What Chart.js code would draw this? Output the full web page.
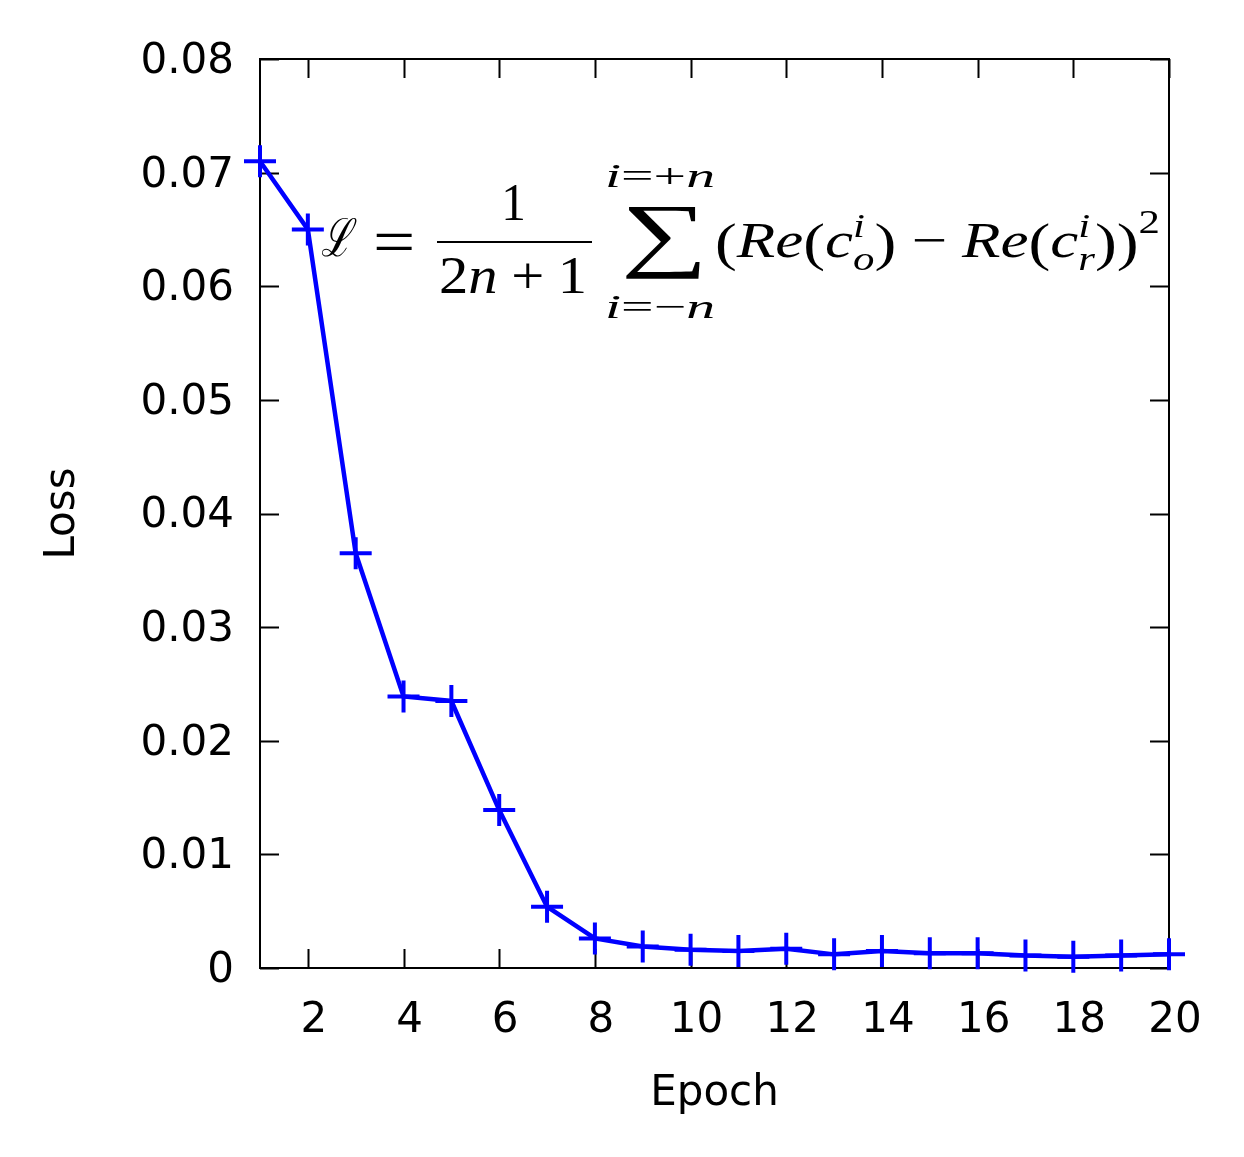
<!DOCTYPE html>
<html>
<head>
<meta charset="utf-8">
<script src="https://cdn.jsdelivr.net/npm/chart.js@4.4.1/dist/chart.umd.min.js"></script>
<style>
  html, body { margin: 0; padding: 0; background: #fff; }
  #wrap { width: 1244px; height: 1157px; }
</style>
</head>
<body>
<div id="wrap"><canvas id="lossChart" width="1244" height="1157"></canvas></div>
<script>
const epochs = [1, 2, 3, 4, 5, 6, 7, 8, 9, 10, 11, 12, 13, 14, 15, 16, 17, 18, 19, 20];
const loss = [0.0710, 0.0650, 0.0365, 0.0239, 0.0235, 0.0139, 0.0054, 0.0026, 0.0019, 0.0016,
              0.0015, 0.0017, 0.0012, 0.0015, 0.0013, 0.0013, 0.0011, 0.0010, 0.0011, 0.0012];
const xTicks = [2, 4, 6, 8, 10, 12, 14, 16, 18, 20];
const yTicks = [0, 0.01, 0.02, 0.03, 0.04, 0.05, 0.06, 0.07, 0.08];
const yTickLabels = ['0', '0.01', '0.02', '0.03', '0.04', '0.05', '0.06', '0.07', '0.08'];

const SANS = '"DejaVu Sans", sans-serif';
const SERIF = '"Liberation Serif", "DejaVu Serif", serif';
const BLUE = '#0000ff';

// gnuplot style box with inward ticks on all four sides
const framePlugin = {
  id: 'frame',
  beforeDatasetsDraw(chart) {
    const { ctx, chartArea: a, scales: { x, y } } = chart;
    const len = 19;
    ctx.save();
    ctx.strokeStyle = '#000';
    ctx.lineWidth = 2;
    ctx.beginPath();
    xTicks.forEach(v => {
      const px = Math.round(x.getPixelForValue(v)) + 0.5;
      ctx.moveTo(px, a.bottom); ctx.lineTo(px, a.bottom - len);
      ctx.moveTo(px, a.top); ctx.lineTo(px, a.top + len);
    });
    yTicks.forEach(v => {
      const py = Math.round(y.getPixelForValue(v)) + 0.5;
      ctx.moveTo(a.left, py); ctx.lineTo(a.left + len, py);
      ctx.moveTo(a.right, py); ctx.lineTo(a.right - len, py);
    });
    ctx.stroke();
    ctx.strokeRect(a.left, a.top, a.right - a.left, a.bottom - a.top);
    ctx.restore();
  }
};

// squeeze a glyph into a box
function fitText(ctx, text, font, x1, y1, x2, y2) {
  ctx.font = font;
  const m = ctx.measureText(text);
  const w = m.actualBoundingBoxLeft + m.actualBoundingBoxRight;
  const h = m.actualBoundingBoxAscent + m.actualBoundingBoxDescent;
  ctx.save();
  ctx.translate(x1, y1);
  ctx.scale((x2 - x1) / w, (y2 - y1) / h);
  ctx.fillText(text, m.actualBoundingBoxLeft, m.actualBoundingBoxAscent);
  ctx.restore();
}

// lay out a run of text pieces, stretched to a given width
function drawRuns(ctx, runs, x0, base, targetW) {
  let w = 0;
  const placed = [];
  runs.forEach(r => {
    if (r.stack) {
      let wmax = 0;
      r.stack.forEach(s => {
        ctx.font = s.font;
        placed.push({ t: s.t, font: s.font, x: w, dy: s.dy });
        wmax = Math.max(wmax, ctx.measureText(s.t).width);
      });
      w += wmax;
    } else {
      ctx.font = r.font;
      placed.push({ t: r.t, font: r.font, x: w + (r.pre || 0), dy: r.dy || 0 });
      w += ctx.measureText(r.t).width + (r.pre || 0) + (r.post || 0);
    }
  });
  const sx = targetW ? targetW / w : 1;
  placed.forEach(p => {
    ctx.font = p.font;
    ctx.save();
    ctx.translate(x0 + p.x * sx, base + p.dy);
    ctx.scale(sx, 1);
    ctx.fillText(p.t, 0, 0);
    ctx.restore();
  });
}

const formulaPlugin = {
  id: 'formula',
  afterDraw(chart) {
    const { ctx, chartArea: a } = chart;
    const ox = a.left - 260, oy = a.top - 59;
    const up = s => `${s}px ${SERIF}`;
    const it = s => `italic ${s}px ${SERIF}`;
    ctx.save();
    ctx.fillStyle = '#000';
    ctx.textAlign = 'left';
    ctx.textBaseline = 'alphabetic';

    fitText(ctx, '\u2112', it(50), ox + 322, oy + 217, ox + 357, oy + 257);
    fitText(ctx, '=', up(50), ox + 376, oy + 234, ox + 412, oy + 251);
    fitText(ctx, '1', up(52), ox + 505, oy + 185, ox + 523, oy + 220);
    ctx.fillRect(ox + 437, oy + 241, 155, 2);
    drawRuns(ctx, [
      { t: '2', font: up(52) }, { t: 'n', font: it(52) },
      { t: '+', font: up(52), pre: 12, post: 12 }, { t: '1', font: up(52) }
    ], ox + 439, oy + 293, 148);

    fitText(ctx, '\u2211', up(80), ox + 625, oy + 207, ox + 700, oy + 280);
    drawRuns(ctx, [
      { t: 'i', font: it(34) }, { t: '=+', font: up(34) }, { t: 'n', font: it(34) }
    ], ox + 605, oy + 187, 110);
    drawRuns(ctx, [
      { t: 'i', font: it(34) }, { t: '=\u2212', font: up(34) }, { t: 'n', font: it(34) }
    ], ox + 605, oy + 318, 110);

    drawRuns(ctx, [
      { t: '(', font: up(52), dy: 3 }, { t: 'Re', font: it(50) }, { t: '(', font: up(52), dy: 3 },
      { t: 'c', font: it(50) },
      { stack: [{ t: 'i', font: it(34), dy: -20 }, { t: 'o', font: it(34), dy: 13 }] },
      { t: ')', font: up(52), dy: 3 },
      { t: '\u2212', font: up(50), pre: 12, post: 12 },
      { t: 'Re', font: it(50) }, { t: '(', font: up(52), dy: 3 },
      { t: 'c', font: it(50) },
      { stack: [{ t: 'i', font: it(34), dy: -20 }, { t: 'r', font: it(34), dy: 13 }] },
      { t: '))', font: up(52), dy: 3 },
      { stack: [{ t: '2', font: up(34), dy: -24 }] }
    ], ox + 715, oy + 257, 445);
    ctx.restore();
  }
};

new Chart(document.getElementById('lossChart').getContext('2d'), {
  type: 'line',
  data: {
    labels: epochs,
    datasets: [{
      data: epochs.map((e, i) => ({ x: e, y: loss[i] })),
      borderColor: BLUE,
      borderWidth: 4.5,
      pointStyle: 'cross',
      pointRadius: 16,
      pointBorderWidth: 4,
      pointBorderColor: BLUE,
      pointBackgroundColor: BLUE,
      tension: 0,
      fill: false,
      clip: false
    }]
  },
  options: {
    responsive: false,
    animation: false,
    devicePixelRatio: 1,
    layout: { padding: { left: 0, top: 59, right: 75, bottom: 0 } },
    plugins: { legend: { display: false }, tooltip: { enabled: false } },
    scales: {
      x: {
        type: 'linear',
        min: 1,
        max: 20,
        grid: { display: false, drawTicks: false },
        border: { display: false },
        afterBuildTicks: s => { s.ticks = xTicks.map(v => ({ value: v })); },
        afterFit: s => { s.height = 189; s.paddingLeft = 0; s.paddingRight = 0; },
        ticks: {
          color: '#000',
          font: { family: SANS, size: 42 },
          padding: 28,
          labelOffset: 6,
          maxRotation: 0,
          autoSkip: false
        },
        title: {
          display: true,
          text: 'Epoch',
          color: '#000',
          font: { family: SANS, size: 42 },
          padding: { top: 0, bottom: 38 }
        }
      },
      y: {
        min: 0,
        max: 0.08,
        grid: { display: false, drawTicks: false },
        border: { display: false },
        afterBuildTicks: s => { s.ticks = yTicks.map(v => ({ value: v })); },
        afterFit: s => { s.width = 260; s.paddingTop = 0; s.paddingBottom = 0; },
        ticks: {
          color: '#000',
          font: { family: SANS, size: 42 },
          padding: 26,
          labelOffset: 3,
          autoSkip: false,
          callback: (v, i) => yTickLabels[i]
        },
        title: {
          display: true,
          text: 'Loss',
          color: '#000',
          font: { family: SANS, size: 42 },
          padding: { top: 38, bottom: 0 }
        }
      }
    }
  },
  plugins: [framePlugin, formulaPlugin]
});
</script>
</body>
</html>
